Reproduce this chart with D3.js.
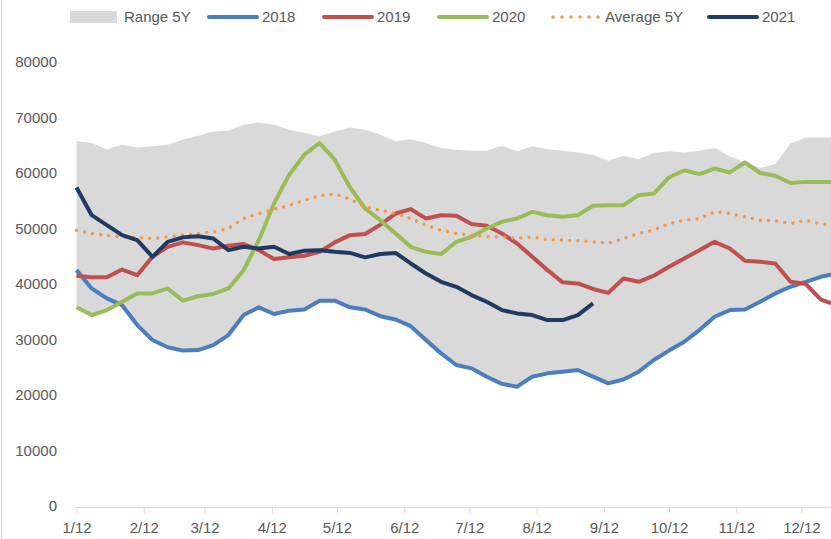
<!DOCTYPE html>
<html>
<head>
<meta charset="utf-8">
<script src="https://cdn.jsdelivr.net/npm/d3@7"></script>
<style>
  body { margin: 0; background: #fff; }
  svg { display: block; font-family: "Liberation Sans", Arial, sans-serif; }
</style>
</head>
<body>
<svg id="chart"></svg>
<script>
var svgWidth = 831;
var svgHeight = 539;

// weekly dates (month/day)
var weeks = [
  "1/12","1/19","1/26","2/2","2/9","2/16","2/23","3/2","3/9","3/16","3/23","3/30",
  "4/6","4/13","4/20","4/27","5/4","5/11","5/18","5/25","6/1","6/8","6/15","6/22","6/29",
  "7/6","7/13","7/20","7/27","8/3","8/10","8/17","8/24","8/31","9/7","9/14","9/21","9/28",
  "10/5","10/12","10/19","10/26","11/2","11/9","11/16","11/23","11/30","12/7","12/14","12/21","12/28"
];

var tickLabels = ["1/12","2/12","3/12","4/12","5/12","6/12","7/12","8/12","9/12","10/12","11/12","12/12"];
var yTicks = [0, 10000, 20000, 30000, 40000, 50000, 60000, 70000, 80000];

var rangeHigh = [65700, 65400, 64300, 65100, 64600, 64800, 65100, 66000, 66700, 67500, 67600, 68700, 69100, 68700, 67800, 67200, 66600, 67500, 68200,
  67800, 66900, 65700, 66100, 65400, 64500, 64200, 64000, 64000, 64900, 63900, 64800, 64300, 64000, 63700, 63300,
  62200, 63100, 62500, 63600, 63900, 63700, 64000, 64500, 63000, 61900, 60900, 61600, 65300, 66400, 66400, 66400];

var rangeLow = [35800, 34400, 35300, 36200, 32600, 29900, 28600, 28000, 28100, 29000, 30800, 34400, 35800, 34600, 35200, 35400, 37000,
  37000, 35800, 35400, 34200, 33600, 32400, 29900, 27500, 25400, 24800, 23300, 22000, 21500, 23300, 23900, 24200, 24500,
  23300, 22100, 22800, 24200, 26300, 28000, 29600, 31700, 34100, 35300, 35400, 36800, 38300, 39500, 40400, 41300, 41900];

var s2018 = [42500, 39200, 37400, 36200, 32600, 29900, 28600, 28000, 28100, 29000, 30800, 34400, 35800, 34600, 35200, 35400, 37000,
  37000, 35800, 35400, 34200, 33600, 32400, 29900, 27500, 25400, 24800, 23300, 22000, 21500, 23300, 23900, 24200, 24500,
  23300, 22100, 22800, 24200, 26300, 28000, 29600, 31700, 34100, 35300, 35400, 36800, 38300, 39500, 40400, 41300, 41900];

var s2019 = [41500, 41200, 41200, 42600, 41600, 44900, 46700, 47500, 47000, 46400, 46900, 47200, 46100, 44500, 44800, 45100, 45800,
  47500, 48800, 49000, 50700, 52700, 53500, 51800, 52400, 52300, 50800, 50500, 49100, 47300, 44900, 42500, 40300, 40100,
  39100, 38400, 41000, 40400, 41500, 43100, 44600, 46100, 47600, 46400, 44200, 44000, 43700, 40400, 40000, 37200, 36200];

var s2020 = [35800, 34400, 35300, 36800, 38300, 38300, 39200, 37000, 37800, 38200, 39200, 42500, 47900, 54500, 59700, 63300, 65400,
  62400, 57400, 53600, 51500, 49100, 46700, 45800, 45400, 47600, 48500, 50000, 51200, 51800, 53000, 52400, 52100, 52400,
  54100, 54200, 54200, 56000, 56300, 59200, 60500, 59800, 60800, 60100, 61900, 60000, 59500, 58200, 58400, 58400, 58400];

var avg5y = [49700, 49100, 48700, 48500, 48400, 48200, 48500, 48800, 49100, 49400, 50000, 51800, 52700, 53500, 54100, 55100, 55900,
  56200, 55300, 53900, 53300, 52700, 51800, 50600, 49700, 49100, 48800, 48500, 48500, 48200, 48500, 48000, 47900, 47800,
  47600, 47300, 48200, 49100, 49700, 50900, 51500, 51800, 53000, 52700, 52100, 51500, 51400, 50900, 51500, 50800, 50600];

var s2021 = [57400, 52400, 50600, 48800, 47900, 44900, 47600, 48400, 48600, 48200, 46100, 46700, 46400, 46700, 45400, 46000, 46100,
  45800, 45600, 44800, 45400, 45600, 43700, 41900, 40400, 39500, 38000, 36800, 35300, 34700, 34400, 33500, 33500, 34400, 36500];

var legendNames = ["Range 5Y", "2018", "2019", "2020", "Average 5Y", "2021"];
var colors = {
  "Range 5Y": "#d9d9d9",
  "2018": "#4a7ebf",
  "2019": "#c0504d",
  "2020": "#9bbb59",
  "Average 5Y": "#f79646",
  "2021": "#1f3a63"
};

var parseDay = d3.timeParse("%m/%d/%Y");
function toDate(s) { return parseDay(s + "/2021"); }
var dates = weeks.map(toDate);

var svg = d3.select("#chart")
  .attr("width", svgWidth)
  .attr("height", svgHeight);

// chart border on the left
svg.append("line")
  .attr("x1", 1.5).attr("x2", 1.5)
  .attr("y1", 0).attr("y2", svgHeight)
  .attr("stroke", "#d9d9d9");

var x = d3.scaleTime()
  .domain([toDate("1/12"), toDate("12/12")])
  .range([76.5, 801.4]);

var y = d3.scaleLinear()
  .domain([0, 80000])
  .range([506, 62]);

// range band
var area = d3.area()
  .x(function(d, i) { return x(dates[i]); })
  .y0(function(d, i) { return y(rangeLow[i]); })
  .y1(function(d) { return y(d); });

svg.append("path")
  .datum(rangeHigh)
  .attr("d", area)
  .attr("fill", colors["Range 5Y"]);

// x axis
var xAxis = d3.axisBottom(x)
  .tickValues(tickLabels.map(toDate))
  .tickSize(6)
  .tickPadding(6)
  .tickFormat(function(d) { return (d.getMonth() + 1) + "/12"; });

var gx = svg.append("g")
  .attr("transform", "translate(0," + (y(0) + 1) + ")")
  .call(xAxis);
gx.select(".domain").attr("d", "M76,0.5H" + svgWidth).attr("stroke", "#d9d9d9");
gx.selectAll(".tick line").attr("stroke", "#d9d9d9");
gx.selectAll(".tick text")
  .attr("fill", "#595959")
  .attr("font-size", 15)
  .attr("font-family", "Liberation Sans, Arial, sans-serif")
  .attr("dy", "0.95em");

// y axis labels only
var yAxis = d3.axisLeft(y)
  .tickValues(yTicks)
  .tickSize(0)
  .tickPadding(0)
  .tickFormat(d3.format("d"));

var gy = svg.append("g")
  .attr("transform", "translate(57,0)")
  .call(yAxis);
gy.select(".domain").remove();
gy.selectAll(".tick text")
  .attr("fill", "#595959")
  .attr("font-size", 15)
  .attr("font-family", "Liberation Sans, Arial, sans-serif");

var line = d3.line()
  .x(function(d, i) { return x(dates[i]); })
  .y(function(d) { return y(d); });

var series = [
  { name: "2018", values: s2018 },
  { name: "2019", values: s2019 },
  { name: "2020", values: s2020 },
  { name: "Average 5Y", values: avg5y },
  { name: "2021", values: s2021 }
];

series.forEach(function(s) {
  var p = svg.append("path")
    .datum(s.values)
    .attr("d", line)
    .attr("fill", "none")
    .attr("stroke", colors[s.name])
    .attr("stroke-linejoin", "round");
  if (s.name == "Average 5Y") {
    p.attr("stroke-width", 3.5)
      .attr("stroke-linecap", "round")
      .attr("stroke-dasharray", "0,8.2");
  } else {
    p.attr("stroke-width", 4);
  }
});

// legend
var legendX = [70, 207, 322, 437, 551, 707];
var legend = svg.append("g");
legendNames.forEach(function(name, i) {
  var lx = legendX[i];
  if (name == "Range 5Y") {
    legend.append("rect")
      .attr("x", lx).attr("y", 11)
      .attr("width", 47).attr("height", 12)
      .attr("fill", colors[name]);
  } else if (name == "Average 5Y") {
    legend.append("line")
      .attr("x1", lx + 2).attr("x2", lx + 48)
      .attr("y1", 17).attr("y2", 17)
      .attr("stroke", colors[name])
      .attr("stroke-width", 3.5)
      .attr("stroke-linecap", "round")
      .attr("stroke-dasharray", "0,9");
  } else {
    legend.append("line")
      .attr("x1", lx + 2).attr("x2", lx + 50)
      .attr("y1", 17).attr("y2", 17)
      .attr("stroke", colors[name])
      .attr("stroke-width", 4)
      .attr("stroke-linecap", "round");
  }
  legend.append("text")
    .attr("x", name == "Range 5Y" || name == "Average 5Y" ? lx + 54 : lx + 55)
    .attr("y", 17)
    .attr("dy", "0.35em")
    .attr("font-size", 15)
    .attr("fill", "#595959")
    .text(name);
});
</script>
</body>
</html>
